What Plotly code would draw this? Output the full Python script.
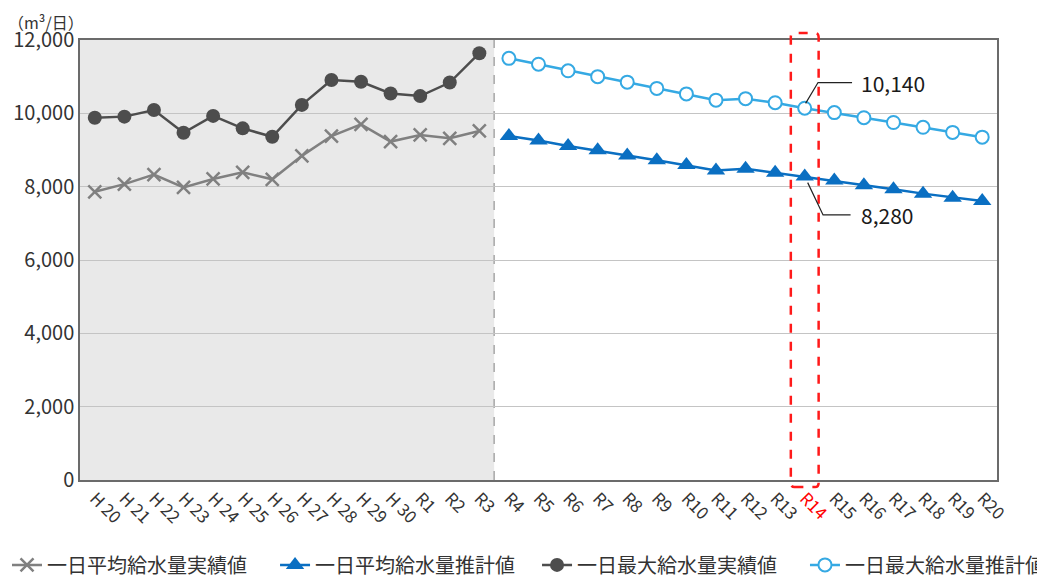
import plotly.graph_objects as go

# ---------------- data ----------------
categories = ["H 20", "H 21", "H 22", "H 23", "H 24", "H 25", "H 26", "H 27", "H 28", "H 29", "H 30",
              "R1", "R2", "R3", "R4", "R5", "R6", "R7", "R8", "R9", "R10", "R11", "R12", "R13",
              "R14", "R15", "R16", "R17", "R18", "R19", "R20"]
actual_labels = categories[:14]       # H20 .. R3
projected_labels = categories[14:]    # R4 .. R20

avg_actual = [7860, 8070, 8330, 7980, 8210, 8390, 8200, 8840, 9380, 9700, 9230, 9410, 9320, 9520]
max_actual = [9880, 9910, 10090, 9470, 9930, 9590, 9360, 10230, 10910, 10860, 10540, 10470, 10840, 11640]
avg_projected = [9380, 9260, 9110, 8990, 8850, 8720, 8590, 8440, 8490, 8380, 8280, 8170, 8040, 7930, 7810, 7700, 7610]
max_projected = [11500, 11340, 11160, 11000, 10850, 10680, 10530, 10360, 10400, 10290, 10140, 10020, 9880, 9750, 9620, 9480, 9350]

series_names = ["一日平均給水量実績値", "一日平均給水量推計値", "一日最大給水量実績値", "一日最大給水量推計値"]
highlight = "R14"
y_ticks = [0, 2000, 4000, 6000, 8000, 10000, 12000]
unit_label = "（m³/日）"

FONT = "Noto Sans CJK JP"
TXT = "#333333"
idx = {c: i for i, c in enumerate(categories)}
x_act = [idx[c] for c in actual_labels]
x_proj = [idx[c] for c in projected_labels]

fig = go.Figure()

fig.add_trace(go.Scatter(
    x=x_act, y=avg_actual, name=series_names[0], mode="lines+markers", legend="legend",
    line=dict(color="#808080", width=2.5),
    marker=dict(symbol="x-thin", size=13, line=dict(color="#808080", width=2.5))))
fig.add_trace(go.Scatter(
    x=x_proj, y=avg_projected, name=series_names[1], mode="lines+markers", legend="legend2",
    line=dict(color="#0a6fc2", width=2.5),
    marker=dict(symbol="triangle-up", size=16, color="#0a6fc2")))
fig.add_trace(go.Scatter(
    x=x_act, y=max_actual, name=series_names[2], mode="lines+markers", legend="legend3",
    line=dict(color="#4d4d4d", width=2.5),
    marker=dict(symbol="circle", size=14, color="#4d4d4d")))
fig.add_trace(go.Scatter(
    x=x_proj, y=max_projected, name=series_names[3], mode="lines+markers", legend="legend4",
    line=dict(color="#35a9e3", width=2.5),
    marker=dict(symbol="circle", size=13, color="white", line=dict(color="#35a9e3", width=2))))

# shaded area for actual values and dashed divider
split = (x_act[-1] + x_proj[0]) / 2
fig.add_shape(type="rect", xref="x", yref="paper", x0=-0.5, x1=split, y0=0, y1=1,
              fillcolor="#e9e9e9", line=dict(width=0), layer="below")
fig.add_shape(type="line", xref="x", yref="paper", x0=split, x1=split, y0=0, y1=1,
              line=dict(color="#9a9a9a", width=1.3, dash="dash"), layer="between")

# red dashed rounded box around highlighted year
hx = idx[highlight]
x0, x1 = hx - 0.47, hx + 0.47
y0, y1 = -0.016, 1.016
rx, ry = 0.12, 0.01
path = (f"M {x0+rx},{y0} L {x1-rx},{y0} Q {x1},{y0} {x1},{y0+ry} L {x1},{y1-ry} "
        f"Q {x1},{y1} {x1-rx},{y1} L {x0+rx},{y1} Q {x0},{y1} {x0},{y1-ry} "
        f"L {x0},{y0+ry} Q {x0},{y0} {x0+rx},{y0} Z")
fig.add_shape(type="path", xref="x", yref="paper", path=path,
              line=dict(color="#ff1a1a", width=2.5, dash="dash"), layer="above")

# leader lines + labels
hp = projected_labels.index(highlight)
v_max = max_projected[hp]
v_avg = avg_projected[hp]
fig.add_shape(type="path", xref="x", yref="y",
              path=f"M {hx+0.03},{v_max+130} L {hx+0.45},{v_max+700} L {hx+1.6},{v_max+700}",
              line=dict(color="#222222", width=1.2), layer="above")
fig.add_shape(type="path", xref="x", yref="y",
              path=f"M {hx+0.1},{v_avg-170} L {hx+0.62},{v_avg-1050} L {hx+1.55},{v_avg-1050}",
              line=dict(color="#222222", width=1.2), layer="above")
fig.add_annotation(x=hx + 1.82, y=v_max + 700, xref="x", yref="y", text=f"{v_max:,}",
                   showarrow=False, xanchor="left", yanchor="middle",
                   font=dict(family=FONT, size=21, color="#1a1a1a"))
fig.add_annotation(x=hx + 1.82, y=v_avg - 1050, xref="x", yref="y", text=f"{v_avg:,}",
                   showarrow=False, xanchor="left", yanchor="middle",
                   font=dict(family=FONT, size=21, color="#1a1a1a"))

# unit label
fig.add_annotation(x=-0.08, y=1.07, xref="paper", yref="paper", text=unit_label,
                   showarrow=False, xanchor="left", yanchor="top", borderpad=0,
                   font=dict(family=FONT, size=16, color=TXT))

ticktext = [f"<span style='color:#ff0000'>{c}</span>" if c == highlight else c for c in categories]


def leg(xpos):
    return dict(orientation="h", x=xpos, xanchor="left", y=-0.193, yanchor="middle",
                font=dict(family=FONT, size=20, color=TXT), bgcolor="rgba(0,0,0,0)",
                itemwidth=30)


# the page body keeps an 8px default margin, so the figure is sized to fit the window
fig.update_layout(
    width=1037, height=570,
    margin=dict(l=72, r=48, t=32, b=98, autoexpand=False),
    paper_bgcolor="white", plot_bgcolor="white",
    font=dict(family=FONT, color=TXT),
    showlegend=True,
    legend=leg(-0.0796), legend2=leg(0.2127), legend3=leg(0.4984), legend4=leg(0.7906),
    xaxis=dict(range=[-0.5, len(categories) - 0.5], tickmode="array",
               tickvals=list(range(len(categories))), ticktext=ticktext,
               tickangle=45, tickfont=dict(family=FONT, size=17, color=TXT),
               showgrid=False, zeroline=False, showline=True, mirror=True, automargin=False,
               linecolor="#6b6b6b", linewidth=1.5, ticks=""),
    yaxis=dict(range=[0, 12000], tickvals=y_ticks, tickformat=",",
               tickfont=dict(family=FONT, size=20, color=TXT),
               showgrid=True, gridcolor="#c4c4c4", gridwidth=1, zeroline=False, automargin=False,
               showline=True, mirror=True, linecolor="#6b6b6b", linewidth=1.5, ticks=""),
)

fig.write_html("out.html")
